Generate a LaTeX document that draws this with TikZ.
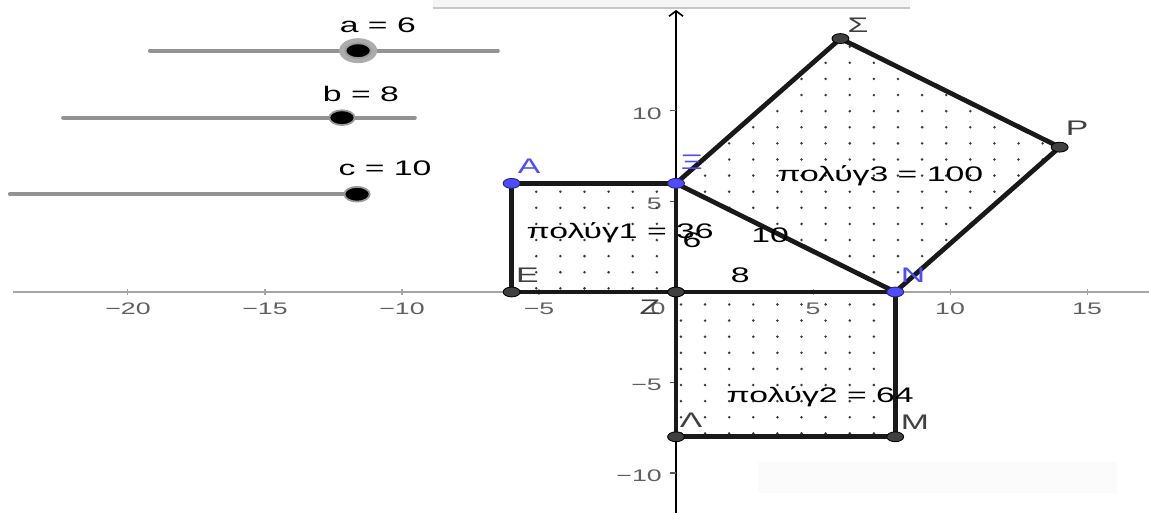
\documentclass[tikz,border=0pt]{standalone}
\usepackage{fontspec}
\setmainfont{Liberation Sans}[FakeStretch=1.6]
\usetikzlibrary{arrows.meta}
\definecolor{ggbblue}{RGB}{77,77,255}
\definecolor{ggbgray}{RGB}{64,64,64}

\begin{document}
\begin{tikzpicture}[x=0.548cm, y=0.362cm,
  lbl/.style={font=\fontsize{12}{14}\selectfont, inner sep=0pt, anchor=base},
  ticklbl/.style={font=\fontsize{9.5}{11}\selectfont, text=gray!75!black, inner sep=0pt},
  side/.style={line width=2.7pt, black!90, line join=round},
  bluept/.style={fill=ggbblue, draw=ggbblue!45!black, line width=0.5pt},
  darkpt/.style={fill=ggbgray, draw=black, line width=0.5pt},
  slider/.style={line width=2.2pt, gray!85, line cap=round},
  knob/.style={fill=black, draw=gray!80, line width=1pt}]
\useasboundingbox (-24.67,-12.21) rectangle (17.26,16.13);

% toolbar edge and faint tooltip box
\fill[gray!8] (-8.87,15.69) rectangle (8.54,16.13);
\draw[gray!45, line width=0.8pt] (-8.87,15.69) -- (8.54,15.69);
\fill[gray!3] (2.99,-9.39) rectangle (16.09,-11.10);

% axes
\coordinate (xl) at (-24.2,0);
\coordinate (xr) at (17.26,0);
\coordinate (yb) at (0,-12.21);
\coordinate (yt) at (0,15.58);
\draw[gray!70, line width=1.1pt] (xl) -- (xr);
\draw[black, line width=0.9pt, -{Straight Barb[length=3pt,width=8pt]}] (yb) -- (yt);
\foreach \x/\t in {-20/−20,-15/−15,-10/−10,-5/−5,5/5,10/10,15/15}
  \draw[gray!70, line width=0.6pt] (\x,-0.15) -- (\x,0.15)
    node[ticklbl, anchor=base] (xt\x) at (\x,-1.27) {\t};
\foreach \y/\t in {-10/−10,-5/−5,5/5,10/10}
  \draw[gray!70!black, line width=0.6pt] (-0.22,\y) -- (0,\y)
    node[ticklbl, anchor=base east] (yt\y) at (-0.5,\y-0.45) {\t};
\node[ticklbl, anchor=base] (zero) at (-0.66,-1.27) {0};

% vertices
\coordinate (A) at (-6,6);
\coordinate (E) at (-6,0);
\coordinate (Z) at (0,0);
\coordinate (Xi) at (0,6);
\coordinate (N) at (8,0);
\coordinate (L) at (0,-8);
\coordinate (M) at (8,-8);
\coordinate (P) at (14,8);
\coordinate (S) at (6,14);

% dotted fillings
\begin{scope}
\clip (A) -- (E) -- (Z) -- (Xi) -- cycle;
\foreach \i in {-7,...,-1}
  \foreach \j in {-3,...,4}
    \fill[gray!45!black] ({0.18+0.88*(\i)},{2.87+0.89*(\j)}) circle (0.8pt);
\end{scope}
\begin{scope}
\clip (Z) -- (N) -- (M) -- (L) -- cycle;
\foreach \i in {0,...,9}
  \foreach \j in {-12,...,-3}
    \fill[gray!45!black] ({0.18+0.88*(\i)},{2.87+0.89*(\j)}) circle (0.8pt);
\end{scope}
\begin{scope}
\clip (Xi) -- (N) -- (P) -- (S) -- cycle;
\foreach \i in {0,...,16}
  \foreach \j in {-4,...,13}
    \fill[gray!45!black] ({0.18+0.88*(\i)},{2.87+0.89*(\j)}) circle (0.8pt);
\end{scope}

% squares and triangle
\draw[side] (A) -- (E) -- (Z) -- (Xi) -- cycle;
\draw[side] (Z) -- (N) -- (M) -- (L) -- cycle;
\draw[side] (Xi) -- (N) -- (P) -- (S) -- cycle;

% points
\foreach \p in {E,Z,L,M,P,S}
  \filldraw[darkpt] (\p) ellipse [x radius=4.8pt, y radius=2.8pt];
\foreach \p in {A,Xi,N}
  \filldraw[bluept] (\p) ellipse [x radius=4.8pt, y radius=2.8pt];

% point labels
\node[lbl, text=ggbblue] (lA) at (-5.36,6.57) {A};
\node[lbl, text=ggbblue] (lXi) at (0.58,6.74) {Ξ};
\node[lbl, text=ggbblue] (lN) at (8.65,0.55) {N};
\node[lbl, text=ggbgray] (lE) at (-5.42,0.50) {E};
\node[lbl, text=ggbgray] (lZ) at (-0.95,-1.27) {Z};
\node[lbl, text=ggbgray] (lL) at (0.55,-7.51) {Λ};
\node[lbl, text=ggbgray] (lM) at (8.72,-7.57) {M};
\node[lbl, text=ggbgray] (lS) at (6.64,14.31) {Σ};
\node[lbl, text=ggbgray] (lP) at (14.64,8.67) {P};

% side lengths
\node[lbl] (s6) at (0.58,2.43) {6};
\node[lbl] (s10) at (3.43,2.71) {10};
\node[lbl] (s8) at (2.34,0.50) {8};

% areas
\node[lbl] (p1) at (-2.04,2.98) {πολύγ1 = 36};
\node[lbl] (p2) at (5.26,-6.08) {πολύγ2 = 64};
\node[lbl] (p3) at (7.45,6.08) {πολύγ3 = 100};

% sliders
\coordinate (a0) at (-19.2,13.33);
\coordinate (a1) at (-6.5,13.33);
\coordinate (ak) at (-11.6,13.33);
\coordinate (b0) at (-22.37,9.63);
\coordinate (b1) at (-9.53,9.63);
\coordinate (bk) at (-12.19,9.63);
\coordinate (c0) at (-24.31,5.40);
\coordinate (c1) at (-11.6,5.40);
\coordinate (ck) at (-11.64,5.40);
\draw[slider] (a0) -- (a1);
\draw[slider] (b0) -- (b1);
\draw[slider] (c0) -- (c1);
\fill[gray!65] (ak) ellipse [x radius=10.8pt, y radius=7.1pt];
\filldraw[knob] (ak) ellipse [x radius=7.2pt, y radius=4.2pt];
\filldraw[knob] (bk) ellipse [x radius=7.2pt, y radius=4.2pt];
\filldraw[knob] (ck) ellipse [x radius=7.2pt, y radius=4.2pt];
\node[lbl] (la) at (-10.88,14.31) {a = 6};
\node[lbl] (lb) at (-11.5,10.55) {b = 8};
\node[lbl] (lc) at (-10.62,6.41) {c = 10};
\end{tikzpicture}
\end{document}
